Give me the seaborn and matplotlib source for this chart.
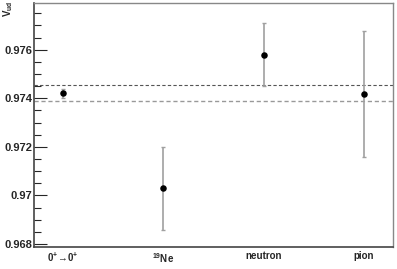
import numpy as np
import pandas as pd
import seaborn as sns
import matplotlib
matplotlib.use('Agg')
import matplotlib.pyplot as plt
from matplotlib import ticker

categories = ['0$^{+}\\!\\rightarrow\\!$0$^{+}$', '$^{19}$Ne', 'neutron', 'pion']
vud = [0.97421, 0.97029, 0.97579, 0.97417]
vud_err = [0.00018, 0.00170, 0.00129, 0.00260]
band = [0.97454, 0.97388]

sns.set_style('white')
plt.rcParams['font.family'] = ['Liberation Sans', 'DejaVu Sans']
plt.rcParams['font.weight'] = 'bold'
plt.rcParams['mathtext.default'] = 'regular'

df = pd.DataFrame({'cat': categories, 'x': np.arange(len(categories)),
                   'vud': vud, 'err': vud_err})

fig = plt.figure(figsize=(3.97, 2.69), dpi=100)
ax = fig.add_axes([0.0856, 0.0818, 0.904, 0.907])

ax.errorbar(df['x'], df['vud'], yerr=df['err'], fmt='none',
            ecolor='#a0a0a0', elinewidth=1.2, capsize=1.5, capthick=1.0,
            zorder=2)
sns.scatterplot(data=df, x='x', y='vud', ax=ax, color='black', s=22,
                edgecolor='black', linewidth=0, zorder=3, legend=False)

ax.axhline(band[0], color='#555555', lw=0.8, ls=(0, (3, 2)), zorder=1)
ax.axhline(band[1], color='#999999', lw=1.0, ls=(0, (3, 2)), zorder=1)

ax.set_xlim(-0.29, 3.29)
ax.set_ylim(0.96788, 0.97792)
ax.set_xticks(df['x'])
ax.set_xticklabels(categories, fontsize=7, fontweight='bold')
ax.tick_params(axis='x', length=0, pad=3)
ax.yaxis.set_major_locator(ticker.MultipleLocator(0.002))
ax.yaxis.set_minor_locator(ticker.MultipleLocator(0.0005))
ax.yaxis.set_major_formatter(ticker.FuncFormatter(
    lambda v, p: ('%.3f' % v).rstrip('0')))
ax.tick_params(axis='y', which='major', direction='in', length=9,
               width=0.8, labelsize=8, pad=1, left=True)
ax.tick_params(axis='y', which='minor', direction='in', length=5,
               width=0.8, left=True)
for lab in ax.get_yticklabels():
    lab.set_fontweight('bold')
ax.set_xlabel('')
ax.set_ylabel('')

for side in ['left', 'bottom']:
    ax.spines[side].set_color('#444444')
    ax.spines[side].set_linewidth(1.2)
for side in ['right', 'top']:
    ax.spines[side].set_color('#888888')
    ax.spines[side].set_linewidth(1.0)

fig.text(0.003, 0.997, 'V$_{ud}$', rotation=90, ha='left', va='top',
         fontsize=7, fontweight='bold')

plt.savefig('out.png', dpi=100)
plt.close()
